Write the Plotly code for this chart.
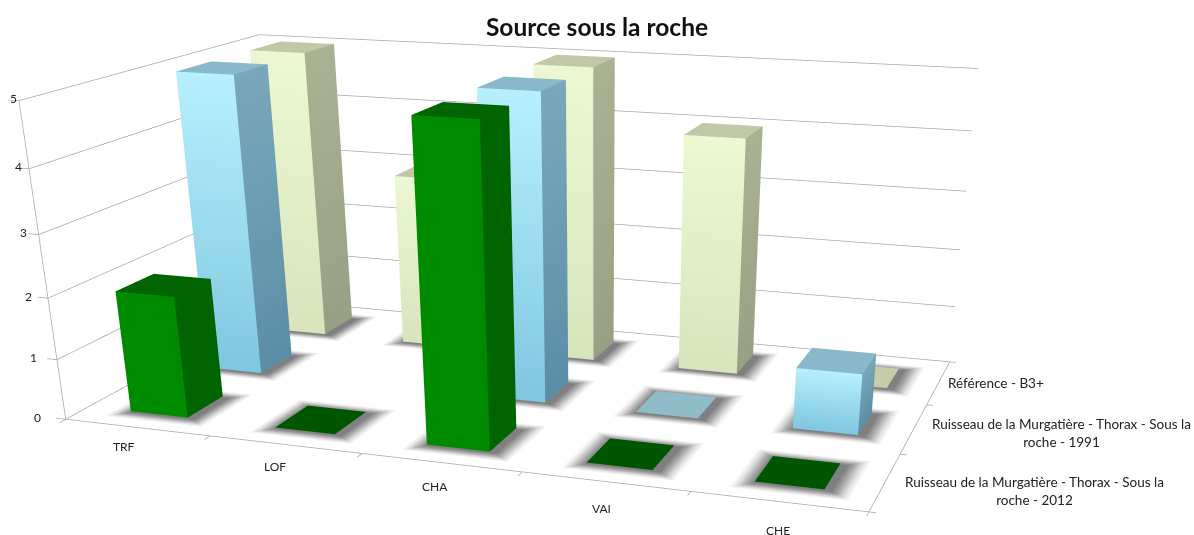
import plotly.graph_objects as go

categories = ["TRF", "LOF", "CHA", "VAI", "CHE"]
series_names = ["Ruisseau de la Murgatière - Thorax - Sous la<br>roche - 2012",
                "Ruisseau de la Murgatière - Thorax - Sous la<br>roche - 1991",
                "Référence - B3+"]
values_2012 = [2, 0, 5, 0, 0]
values_1991 = [5, None, 5, 0, 1]
values_ref = [5, 3, 5, 4, 0]
z_ticks = [0, 1, 2, 3, 4, 5]

FIG_H = 1500  # taller canvas, cropped by the window: gives the long lens of the original chart
PAD = 0.1
NX, NY, NZ = len(categories), 3, 5
eye = dict(x=1.5915, y=-4.2665, z=1.0610)
center = dict(x=0.3120, y=-0.3756, z=-1.1888)
up = dict(x=0, y=0, z=1)
aspect = dict(x=2.0 * (NX + 2 * PAD) / NX, y=1.1655 * (NY + 2 * PAD) / NY, z=0.7492 * (NZ + 2 * PAD) / NZ)

BAR_W, BAR_D = 0.40, 0.46
styles = [
    dict(front=("#008a00", "#008a00"), side=("#006400", "#006400"), top="#006400", flat="#005500"),
    dict(front=("#b6f0fc", "#7fc6e0"), side=("#7aa8ba", "#5a8ea6"), top="#88b8ca", flat="#8fbcc8"),
    dict(front=("#ecf8d2", "#d8e4bc"), side=("#aab294", "#98a084"), top="#c0c8a8", flat="#c5cda8"),
]

def quad(m, corners, colors):
    n = len(m["x"])
    for (a, b, c), col in zip(corners, colors):
        m["x"].append(a); m["y"].append(b); m["z"].append(c); m["c"].append(col)
    m["i"] += [n, n]; m["j"] += [n + 1, n + 2]; m["k"] += [n + 2, n + 3]

def new_mesh():
    return dict(x=[], y=[], z=[], c=[], i=[], j=[], k=[])

def add_trace(fig, m):
    fig.add_trace(go.Mesh3d(x=m["x"], y=m["y"], z=m["z"], i=m["i"], j=m["j"], k=m["k"], vertexcolor=m["c"],
                            lighting=dict(ambient=1, diffuse=0, specular=0, roughness=1, fresnel=0),
                            hoverinfo="skip", showscale=False))

fig = go.Figure()
shadow = new_mesh()
Z0 = -0.02
rings = [(0.0, "#808080"), (0.04, "#aaaaaa"), (0.08, "#dddddd"), (0.12, "#ffffff")]
DXR = 0.04
for row, vals in enumerate([values_2012, values_1991, values_ref]):
    m = new_mesh(); st = styles[row]
    for col, v in enumerate(vals):
        if v is None:
            continue
        x0, x1 = col + .5 - BAR_W / 2, col + .5 + BAR_W / 2
        y0, y1 = row + .5 - BAR_D / 2, row + .5 + BAR_D / 2
        quad(shadow, [(x0, y0, Z0), (x1 + DXR, y0, Z0), (x1 + DXR, y1, Z0), (x0, y1, Z0)], [rings[0][1]] * 4)
        for (a, ca), (b, cb) in zip(rings[:-1], rings[1:]):
            ax0, ax1, ay0, ay1 = x0 - a, x1 + a + DXR, y0 - a, y1 + a
            bx0, bx1, by0, by1 = x0 - b, x1 + b + DXR, y0 - b, y1 + b
            quad(shadow, [(bx0, by0, Z0), (bx1, by0, Z0), (ax1, ay0, Z0), (ax0, ay0, Z0)], [cb, cb, ca, ca])
            quad(shadow, [(bx1, by0, Z0), (bx1, by1, Z0), (ax1, ay1, Z0), (ax1, ay0, Z0)], [cb, cb, ca, ca])
            quad(shadow, [(bx1, by1, Z0), (bx0, by1, Z0), (ax0, ay1, Z0), (ax1, ay1, Z0)], [cb, cb, ca, ca])
            quad(shadow, [(bx0, by1, Z0), (bx0, by0, Z0), (ax0, ay0, Z0), (ax0, ay1, Z0)], [cb, cb, ca, ca])
        if v == 0:
            quad(m, [(x0, y0, 0), (x1, y0, 0), (x1, y1, 0), (x0, y1, 0)], [st["flat"]] * 4)
            continue
        ft, fb = st["front"]; st_, sb = st["side"]
        quad(m, [(x0, y0, 0), (x1, y0, 0), (x1, y0, v), (x0, y0, v)], [fb, fb, ft, ft])
        quad(m, [(x1, y0, 0), (x1, y1, 0), (x1, y1, v), (x1, y0, v)], [sb, sb, st_, st_])
        quad(m, [(x0, y0, v), (x1, y0, v), (x1, y1, v), (x0, y1, v)], [st["top"]] * 4)
    add_trace(fig, m)
add_trace(fig, shadow)

lx, ly, lz = [], [], []
def seg(a, b):
    lx.extend([a[0], b[0], None]); ly.extend([a[1], b[1], None]); lz.extend([a[2], b[2], None])
for t in z_ticks:
    seg((0, 0, t), (0, NY, t)); seg((0, NY, t), (NX, NY, t)); seg((-0.07, 0, t), (0, 0, t))
seg((0, 0, 0), (0, 0, NZ)); seg((0, 0, 0), (NX, 0, 0)); seg((NX, 0, 0), (NX, NY, 0))
for i in range(NX + 1):
    seg((i, 0, 0), (i, -0.07, 0))
for j in range(NY + 1):
    seg((NX, j, 0), (NX + 0.04, j, 0))
fig.add_trace(go.Scatter3d(x=lx, y=ly, z=lz, mode="lines", line=dict(color="#a8a8a8", width=1.5), hoverinfo="skip", showlegend=False))

FONT = "Lato"
ann = []
for t in z_ticks:
    ann.append(dict(x=0, y=0, z=t, text=str(t), showarrow=False, xanchor="right", xshift=-23 + 4.6 * t, yshift=2,
                    font=dict(family=FONT, size=12, color="#222")))
for i, c in enumerate(categories):
    ann.append(dict(x=i + .5, y=0, z=0, text=c, showarrow=False, xshift=-13 + 3.2 * i, yshift=-19 - 2.5 * i,
                    font=dict(family=FONT, size=12, color="#222")))
series_xshift, series_yshift = [18, 16, 7], [-9, -4.5, 0]
for j, s in enumerate(series_names):
    ann.append(dict(x=NX, y=j + .5, z=0, text=s, showarrow=False, xanchor="left", xshift=series_xshift[j], yshift=series_yshift[j],
                    align="center", font=dict(family=FONT, size=13.5, color="#222")))

ax_off = dict(visible=False, showspikes=False)
fig.update_layout(
    width=1194, height=FIG_H, margin=dict(l=0, r=0, t=0, b=0), paper_bgcolor="white", showlegend=False,
    title=dict(text="<b>Source sous la roche</b>", x=0.5, xanchor="center", yref="container", y=1 - 27 / FIG_H, yanchor="middle",
               font=dict(family=FONT, size=24.5, color="#111")),
    scene=dict(domain=dict(x=[0, 1], y=[0, 1]),
               xaxis=dict(range=[-PAD, NX + PAD], **ax_off), yaxis=dict(range=[-PAD, NY + PAD], **ax_off), zaxis=dict(range=[-PAD, NZ + PAD], **ax_off),
               aspectmode="manual", aspectratio=aspect,
               camera=dict(eye=eye, center=center, up=up, projection=dict(type="perspective")),
               annotations=ann),
)
fig.write_html("out.html", config=dict(displayModeBar=False),
               post_script="document.body.style.margin='0';document.body.style.overflow='hidden';document.documentElement.style.overflow='hidden';")
